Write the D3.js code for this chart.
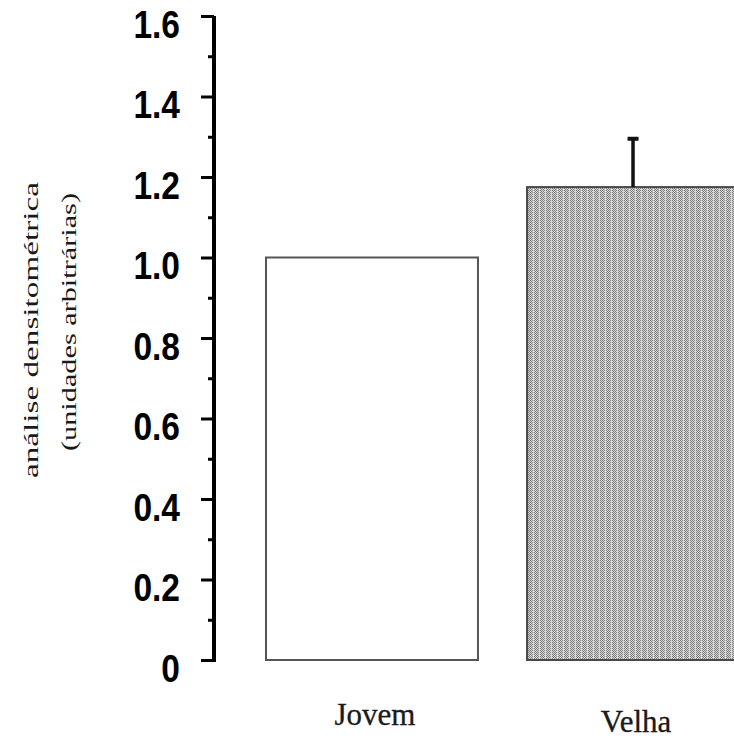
<!DOCTYPE html>
<html><head><meta charset="utf-8">
<script src="https://cdn.jsdelivr.net/npm/d3@7"></script>
<style>html,body{margin:0;padding:0;background:#fff;overflow:hidden}</style>
</head><body>
<svg id="c" width="734" height="739"></svg>
<script>
const categories = ["Jovem", "Velha"];
const values = [1.0, 1.175];
const errors = [0, 0.12];
const tickValues = [0, 0.2, 0.4, 0.6, 0.8, 1.0, 1.2, 1.4, 1.6];
const tickLabels = ["0", "0.2", "0.4", "0.6", "0.8", "1.0", "1.2", "1.4", "1.6"];
const minorTicks = [0.1, 0.3, 0.5, 0.7, 0.9, 1.1, 1.3, 1.5];
const yTitle = ["análise densitométrica", "(unidades arbitrárias)"];

const svg = d3.select("#c");
const y = d3.scaleLinear().domain([0, 1.6]).range([660, 16]);
const x = d3.scaleBand().domain(categories).range([266, 739]).paddingInner(0.188).paddingOuter(0);

// pattern
const defs = svg.append("defs");
const pat = defs.append("pattern").attr("id", "dots").attr("patternUnits", "userSpaceOnUse")
  .attr("width", 6).attr("height", 2);
pat.append("rect").attr("width", 6).attr("height", 2).attr("fill", "#d8d8d8");
pat.append("rect").attr("x", 0).attr("y", 0).attr("width", 1).attr("height", 1).attr("fill", "#7a7a7a");
pat.append("rect").attr("x", 1).attr("y", 1).attr("width", 1).attr("height", 1).attr("fill", "#7a7a7a");
pat.append("rect").attr("x", 2).attr("y", 0).attr("width", 1).attr("height", 1).attr("fill", "#7a7a7a");
pat.append("rect").attr("x", 3).attr("y", 1).attr("width", 1).attr("height", 1).attr("fill", "#7a7a7a");
pat.append("rect").attr("x", 4).attr("y", 0).attr("width", 1).attr("height", 1).attr("fill", "#8a8a8a");

// bars
svg.selectAll("rect.bar").data(categories).enter().append("rect")
  .attr("class", "bar")
  .attr("x", d => x(d))
  .attr("y", (d, i) => y(values[i]))
  .attr("width", x.bandwidth())
  .attr("height", (d, i) => y(0) - y(values[i]))
  .attr("fill", (d, i) => i === 0 ? "#fff" : "url(#dots)")
  .attr("stroke", (d, i) => i === 0 ? "#555" : "#4a4a4a")
  .attr("stroke-width", 2);

// error bars
const eb = categories.map((c, i) => ({c, v: values[i], e: errors[i]})).filter(d => d.e > 0);
svg.selectAll("line.err").data(eb).enter().append("line")
  .attr("x1", d => x(d.c) + x.bandwidth() / 2).attr("x2", d => x(d.c) + x.bandwidth() / 2)
  .attr("y1", d => y(d.v)).attr("y2", d => y(d.v + d.e))
  .attr("stroke", "#111").attr("stroke-width", 3.5);
svg.selectAll("line.cap").data(eb).enter().append("line")
  .attr("x1", d => x(d.c) + x.bandwidth() / 2 - 5.5).attr("x2", d => x(d.c) + x.bandwidth() / 2 + 5.5)
  .attr("y1", d => y(d.v + d.e)).attr("y2", d => y(d.v + d.e))
  .attr("stroke", "#111").attr("stroke-width", 4);

// y axis
const axisX = 214;
const squeeze = 0.86;
const yAxis = d3.axisLeft(y).tickValues(tickValues).tickFormat((d, i) => tickLabels[i]).tickSize(13).tickPadding(21);
const ag = svg.append("g").attr("transform", `translate(${axisX},0)`).call(yAxis);
ag.select(".domain").attr("d", `M0,${y(1.6)}V${y(0) + 2}`).attr("stroke", "#000").attr("stroke-width", 4);
ag.selectAll(".tick line").attr("stroke", "#000").attr("stroke-width", 3);
ag.selectAll(".tick text")
  .attr("font-family", "Liberation Sans, Arial, sans-serif")
  .attr("font-weight", "bold").attr("font-size", 39).attr("fill", "#000")
  .attr("x", -34 / squeeze)
  .attr("transform", `scale(${squeeze},1)`)
  .attr("dy", "0.55em");
const minor = d3.axisLeft(y).tickValues(minorTicks).tickSize(6).tickFormat("");
const mg = svg.append("g").attr("transform", `translate(${axisX},0)`).call(minor);
mg.select(".domain").remove();
mg.selectAll(".tick line").attr("stroke", "#000").attr("stroke-width", 3);

// x labels
const baselines = [725, 732];
svg.selectAll("text.xl").data(categories).enter().append("text")
  .attr("x", d => x(d) + x.bandwidth() / 2 + 3)
  .attr("y", (d, i) => baselines[i])
  .attr("text-anchor", "middle")
  .attr("font-family", "Liberation Serif, Times New Roman, serif")
  .attr("font-size", 31).attr("fill", "#1a1a1a")
  .attr("stroke", "#1a1a1a").attr("stroke-width", 0.3)
  .text(d => d);

// y title
const tg = svg.append("g");
tg.append("text").attr("transform", "translate(38,330) rotate(-90)")
  .attr("text-anchor", "middle").attr("font-family", "Liberation Serif, Times New Roman, serif")
  .attr("font-size", 21).attr("fill", "#1a1a1a")
  .attr("textLength", 296).attr("lengthAdjust", "spacingAndGlyphs")
  .text(yTitle[0]);
tg.append("text").attr("transform", "translate(76,322) rotate(-90)")
  .attr("text-anchor", "middle").attr("font-family", "Liberation Serif, Times New Roman, serif")
  .attr("font-size", 21).attr("fill", "#1a1a1a")
  .attr("textLength", 258).attr("lengthAdjust", "spacingAndGlyphs")
  .text(yTitle[1]);
</script>
</body></html>
